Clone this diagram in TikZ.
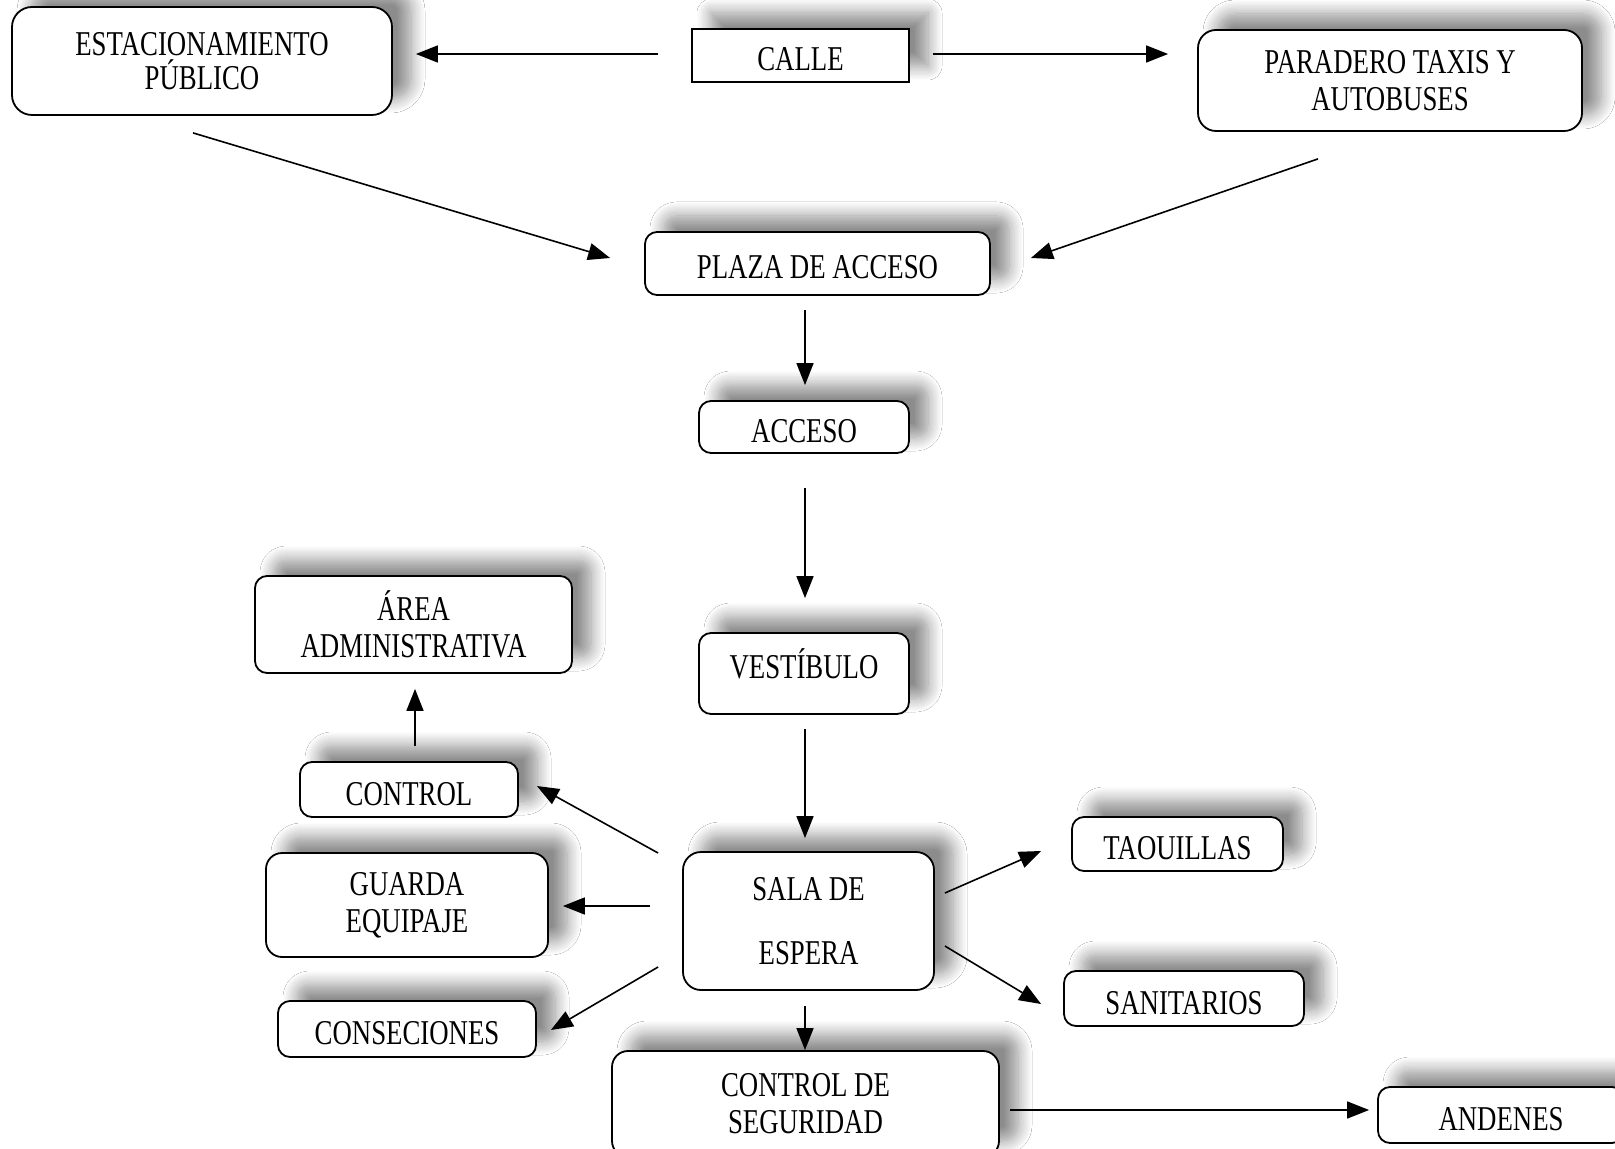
\documentclass[tikz,border=0pt]{standalone}
\usepackage{fontspec}
\setmainfont{Liberation Serif}[FakeStretch=0.77]
\usetikzlibrary{calc,arrows.meta,shadows.blur}
\begin{document}
\begin{tikzpicture}[x=0.5pt,y=-0.5pt,
 box/.style={draw=black, line width=0.9pt, fill=white, rounded corners=6pt, align=center, inner sep=0pt,
   font=\fontsize{17.4}{18.5}\selectfont,
   blur shadow={shadow xshift=9.5pt, shadow yshift=8pt, shadow blur radius=7pt, shadow blur steps=12, shadow opacity=45}},
 one/.style={text height=15.5pt, text depth=0pt},
 arr/.style={line width=0.8pt, -{Triangle[length=11pt,width=8.5pt]}}]
\useasboundingbox (0,0) rectangle (1615,1149);
\clip (0,0) rectangle (1615,1149);
\fill[white] (0,0) rectangle (1615,1149);

\node[box, rounded corners=10pt, minimum width=190pt, minimum height=54pt, font=\fontsize{17.4}{16.8}\selectfont] (estac) at (202,61) {ESTACIONAMIENTO\\PÚBLICO};
\node[box, one, sharp corners, minimum width=108.5pt, minimum height=26.5pt] (calle) at (800.5,55.5) {CALLE};
\node[box, rounded corners=9pt, minimum width=192pt, minimum height=50.5pt] (paradero) at (1390,80.5) {PARADERO TAXIS Y\\AUTOBUSES};
\node[box, one, minimum width=172.5pt, minimum height=31.5pt] (plaza) at (817.5,263.5) {PLAZA DE ACCESO};
\node[box, one, minimum width=105pt, minimum height=26pt] (acceso) at (804,427) {ACCESO};
\node[box, text height=11.5pt, text depth=7pt, minimum width=105pt, minimum height=40.5pt] (vest) at (804,673.5) {VESTÍBULO};
\node[box, minimum width=158.5pt, minimum height=48.5pt] (area) at (413.5,624.5) {ÁREA\\ADMINISTRATIVA};
\node[box, one, minimum width=109pt, minimum height=27.5pt] (control) at (409,789.5) {CONTROL};
\node[box, rounded corners=8pt, minimum width=141pt, minimum height=52pt] (guarda) at (407,905) {GUARDA\\EQUIPAJE};
\node[box, one, minimum width=129pt, minimum height=28pt] (consec) at (407,1029) {CONSECIONES};
\node[box, rounded corners=9pt, minimum width=125.5pt, minimum height=69pt] (sala) at (808.5,921) {SALA DE\\[13.5pt]ESPERA};
\node[box, one, minimum width=105.5pt, minimum height=27pt] (taq) at (1177.5,844) {TAOUILLAS};
\node[box, one, minimum width=120pt, minimum height=27.5pt] (sanit) at (1184,998.5) {SANITARIOS};
\node[box, rounded corners=8pt, minimum width=193.5pt, minimum height=53pt] (cseg) at (805.5,1104) {CONTROL DE\\SEGURIDAD};
\node[box, one, minimum width=123pt, minimum height=28pt] (andenes) at (1501,1115) {ANDENES};

\draw[arr] ($(calle.west)+(-33,-1.5)$) -- ($(estac.east)+(23,-7)$);
\draw[arr] ($(calle.east)+(23,-1.5)$) -- ($(paradero.west)+(-29,-26.5)$);
\draw[arr] ($(estac.south)+(-9,17)$) -- ($(plaza.west)+(-34,-5.5)$);
\draw[arr] ($(paradero.south)+(-72,27)$) -- ($(plaza.east)+(40,-5.5)$);
\draw[arr] ($(plaza.south)+(-12.5,14)$) -- ($(acceso.north)+(1,-15)$);
\draw[arr] ($(acceso.south)+(1,34)$) -- ($(vest.north)+(1,-34)$);
\draw[arr] ($(vest.south)+(1,14)$) -- ($(sala.north)+(-3.5,-13)$);
\draw[arr] ($(sala.west)+(-24,-68)$) -- ($(control.east)+(18,-3.5)$);
\draw[arr] ($(sala.west)+(-32,-15)$) -- ($(guarda.east)+(14,1)$);
\draw[arr] ($(sala.west)+(-24,46)$) -- ($(consec.east)+(14,1)$);
\draw[arr] ($(control.north)+(6,-15)$) -- ($(area.south)+(1.5,15)$);
\draw[arr] ($(sala.east)+(10,-28)$) -- ($(taq.west)+(-30,7)$);
\draw[arr] ($(sala.east)+(10,25)$) -- ($(sanit.west)+(-22,5.5)$);
\draw[arr] ($(sala.south)+(-3.5,15)$) -- ($(cseg.north)+(-0.5,0)$);
\draw[arr] ($(cseg.east)+(10,6)$) -- ($(andenes.west)+(-8,-5)$);
\end{tikzpicture}
\end{document}
